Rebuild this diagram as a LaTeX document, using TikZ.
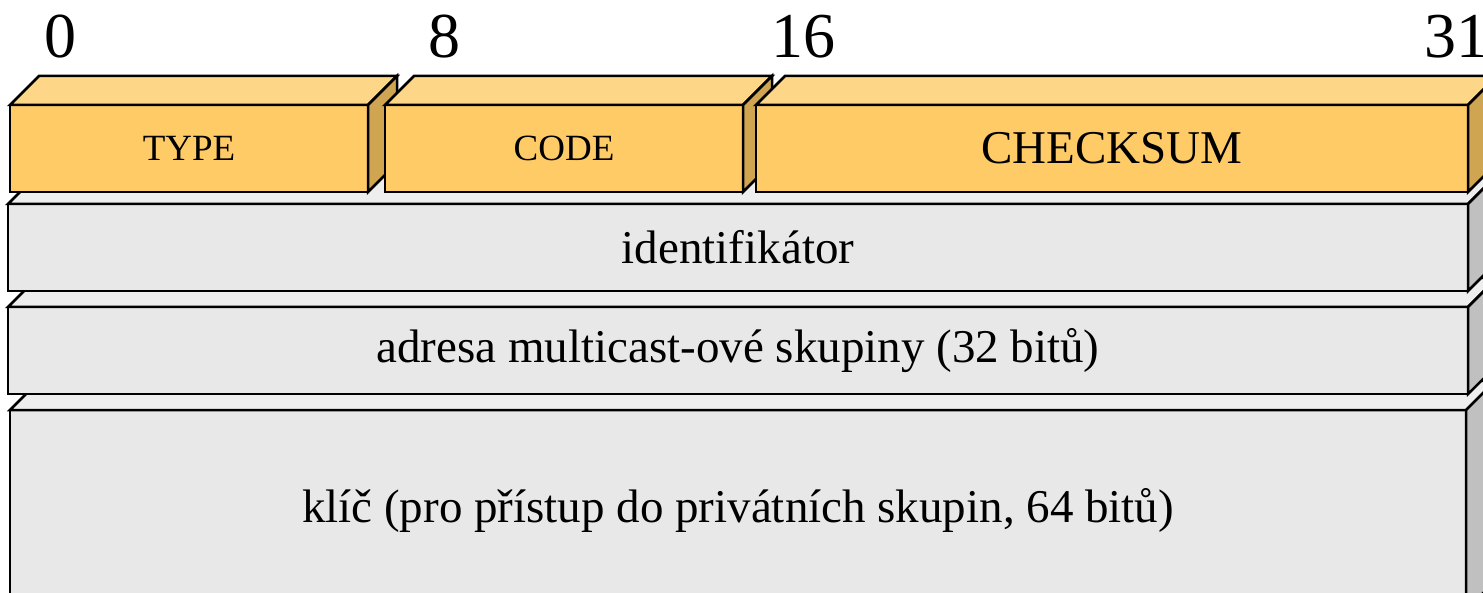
\documentclass[tikz,border=0pt]{standalone}
\usepackage{fontspec}
\setmainfont{Liberation Serif}
\usetikzlibrary{calc}

\definecolor{orfront}{HTML}{FECB67}
\definecolor{ortop}{HTML}{FED687}
\definecolor{orside}{HTML}{D0A552}
\definecolor{grfront}{HTML}{E8E8E8}
\definecolor{grtop}{HTML}{EEEEEE}
\definecolor{grside}{HTML}{C0C0C0}

% top and side face of a field node: #1 node, #2 top colour, #3 side colour
\newcommand{\faces}[3]{%
  \draw[fill=#2] (#1.north west) -- ++(29,-29) -- ($(#1.north east)+(29,-29)$) -- (#1.north east) -- cycle;
  \draw[fill=#3] (#1.north east) -- ++(29,-29) -- ($(#1.south east)+(29,-29)$) -- (#1.south east) -- cycle;
}

\begin{document}
\begin{tikzpicture}[x=1pt, y=-1pt, line width=2.5pt,
            field/.style={draw, rectangle, outer sep=0pt, inner sep=0pt,
                          minimum height=87pt, font=\fontsize{47}{56}\selectfont},
            small/.style={font=\fontsize{37}{44}\selectfont},
            bitnum/.style={anchor=base, font=\fontsize{64}{76}\selectfont}]

        \useasboundingbox (0,0) rectangle (1483,593);
        \clip (0,0) rectangle (1483,593);

        % --- Bit numbers ---
        \node[bitnum] (bit0)  at (60,58)   {0};
        \node[bitnum] (bit8)  at (444,58)  {8};
        \node[bitnum] (bit16) at (803,58)  {16};
        \node[bitnum] (bit31) at (1456,58) {31};

        % --- Lower rows (back to front) ---
        \node[field, fill=grfront, minimum width=1456pt, minimum height=200pt] (key) at (738,510) {klíč (pro přístup do privátních skupin, 64 bitů)};
        \faces{key}{grtop}{grside}
        \node[field, fill=grfront, minimum width=1460pt] (group) at (738,350.5) {adresa multicast-ové skupiny (32 bitů)};
        \faces{group}{grtop}{grside}
        \node[field, fill=grfront, minimum width=1460pt] (ident) at (738,247.5) {identifikátor};
        \faces{ident}{grtop}{grside}

        % --- Header row ---
        \node[field, small, fill=orfront, minimum width=358pt] (type) at (189,148.5) {TYPE};
        \faces{type}{ortop}{orside}
        \node[field, small, fill=orfront, minimum width=358pt] (code) at (564,148.5) {CODE};
        \faces{code}{ortop}{orside}
        \node[field, fill=orfront, minimum width=712pt] (checksum) at (1112,148.5) {CHECKSUM};
        \faces{checksum}{ortop}{orside}

    \end{tikzpicture}
\end{document}
